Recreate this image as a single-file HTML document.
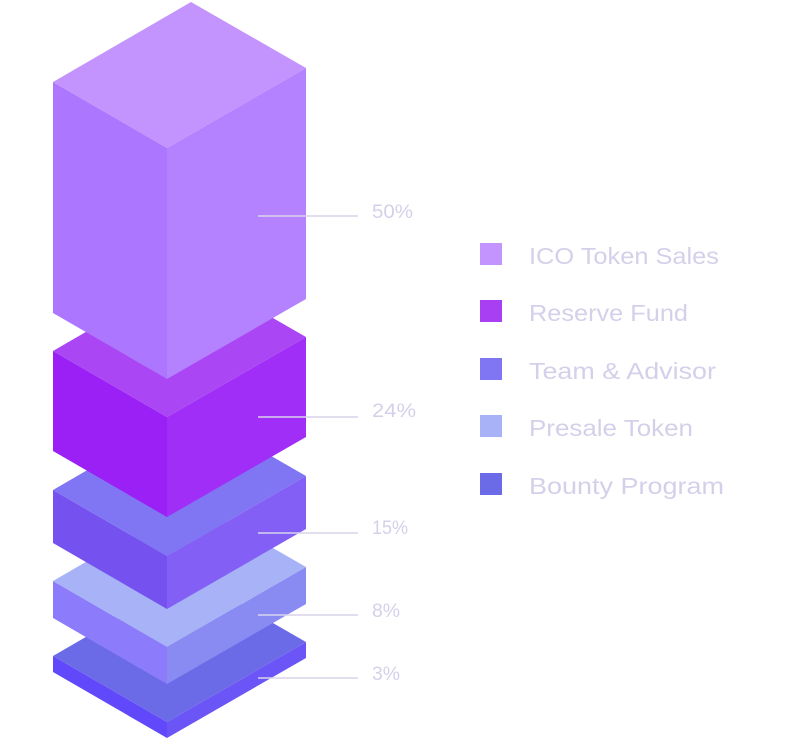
<!DOCTYPE html>
<html><head><style>body{margin:0;background:#fff;width:810px;height:740px;overflow:hidden}</style></head><body>
<svg width="810" height="740" viewBox="0 0 810 740" xmlns="http://www.w3.org/2000/svg" font-family="Liberation Sans, sans-serif">
<g>
<polygon points="53,656 167,722 167,738 53,672" fill="#6148fb"/>
<polygon points="167,722 306,642 306,658 167,738" fill="#6c55f6"/>
<polygon points="53,656 191,576 306,642 167,722" fill="#6b6be8"/>
</g>
<g>
<polygon points="53,581 167,647 167,684 53,618" fill="#8c7cfc"/>
<polygon points="167,647 306,567 306,604 167,684" fill="#8a8af3"/>
<polygon points="53,581 191,501 306,567 167,647" fill="#a7b3f6"/>
</g>
<g>
<polygon points="53,490 167,556 167,609 53,543" fill="#7552f0"/>
<polygon points="167,556 306,476 306,529 167,609" fill="#835ff5"/>
<polygon points="53,490 191,410 306,476 167,556" fill="#8075f3"/>
</g>
<g>
<polygon points="53,351 167,417 167,517 53,451" fill="#9a20f5"/>
<polygon points="167,417 306,337 306,437 167,517" fill="#a02ef7"/>
<polygon points="53,351 191,271 306,337 167,417" fill="#aa46f3"/>
</g>
<g>
<polygon points="53,82 167,148 167,379 53,313" fill="#ad76fe"/>
<polygon points="167,148 306,68 306,299 167,379" fill="#b482fe"/>
<polygon points="53,82 191,2 306,68 167,148" fill="#c393fe"/>
</g>
<g stroke="#d8d4ec" stroke-width="1.5">
<line x1="258" y1="216" x2="358" y2="216"/>
<line x1="258" y1="417" x2="358" y2="417"/>
<line x1="258" y1="533" x2="358" y2="533"/>
<line x1="258" y1="615" x2="358" y2="615"/>
<line x1="258" y1="678" x2="358" y2="678"/>
</g>
<g fill="#d5d0ea" font-size="19">
<text x="372" y="218" textLength="41" lengthAdjust="spacingAndGlyphs">50%</text>
<text x="372" y="417" textLength="44" lengthAdjust="spacingAndGlyphs">24%</text>
<text x="372" y="534" textLength="36" lengthAdjust="spacingAndGlyphs">15%</text>
<text x="372" y="617" textLength="28" lengthAdjust="spacingAndGlyphs">8%</text>
<text x="372" y="680" textLength="28" lengthAdjust="spacingAndGlyphs">3%</text>
</g>
<rect x="480" y="243" width="22" height="22" fill="#c393fe"/>
<rect x="480" y="300" width="22" height="22" fill="#a93ff3"/>
<rect x="480" y="358" width="22" height="22" fill="#8075f3"/>
<rect x="480" y="415" width="22" height="22" fill="#a7b3f6"/>
<rect x="480" y="473" width="22" height="22" fill="#6b6be8"/>
<g fill="#d5d0ea" font-size="23">
<text x="529" y="264" textLength="190" lengthAdjust="spacingAndGlyphs">ICO Token Sales</text>
<text x="529" y="321" textLength="159" lengthAdjust="spacingAndGlyphs">Reserve Fund</text>
<text x="529" y="379" textLength="187" lengthAdjust="spacingAndGlyphs">Team &amp; Advisor</text>
<text x="529" y="436" textLength="164" lengthAdjust="spacingAndGlyphs">Presale Token</text>
<text x="529" y="494" textLength="195" lengthAdjust="spacingAndGlyphs">Bounty Program</text>
</g>
</svg>
</body></html>
